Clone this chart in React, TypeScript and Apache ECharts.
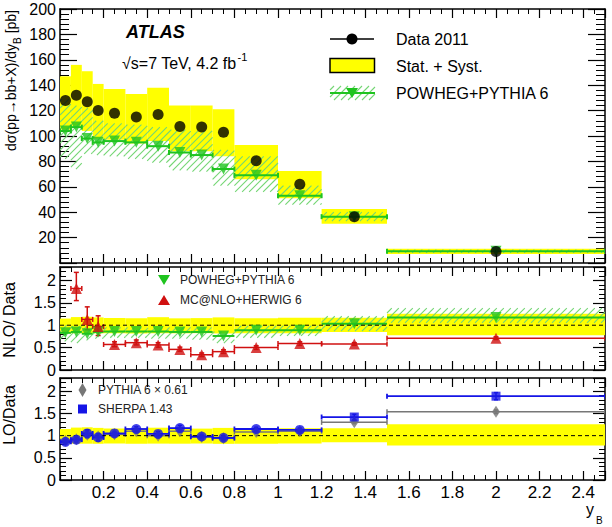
import React, { useEffect, useRef } from 'react';
import * as echarts from 'echarts';

// ---------------- data ----------------
const binEdges = [0, 0.05, 0.1, 0.15, 0.2, 0.3, 0.4, 0.5, 0.6, 0.7, 0.8, 1.0, 1.2, 1.5, 2.5];

// top panel: cross-section [pb]
const dataXsec = [128, 132, 127, 120, 118, 115, 117, 107.5, 107, 103, 80.5, 62, 36.5, 9.0];
const dataBandHi = [147, 156, 151, 141, 137, 133, 138, 124, 124, 121, 93, 72.5, 42.5, 11.3];
const dataBandLo = [105, 108, 104, 98, 97, 94, 96, 88, 88, 84, 66, 51, 31, 7.0];
const powheg = [104, 107, 98, 95, 96, 95, 92, 87, 85, 74, 69, 53, 36.5, 9.2];
const powhegHi = [129, 124, 122, 112, 110, 109, 107, 105, 104, 89, 84, 61, 40, 10.5];
const powhegLo = [82, 74, 86, 85, 84, 82, 79, 73, 72, 61, 56, 46, 33, 8];

// middle panel: NLO / Data
const ratioPowheg = [0.83, 0.85, 0.81, 0.85, 0.86, 0.86, 0.86, 0.85, 0.85, 0.76, 0.89, 0.89, 1.03, 1.17];
const ratioPowhegHi = [1.0, 0.98, 0.97, 0.95, 0.95, 0.95, 0.94, 0.95, 0.95, 0.86, 0.99, 0.99, 1.2, 1.38];
const ratioPowhegLo = [0.64, 0.6, 0.66, 0.7, 0.72, 0.72, 0.7, 0.7, 0.68, 0.6, 0.72, 0.76, 0.87, 1.05];
const ratioMcnlo = [null, 1.82, 1.13, 0.97, 0.57, 0.61, 0.56, 0.46, 0.34, 0.41, 0.5, 0.59, 0.58, 0.71];
const ratioMcnloLo = [null, 1.55, 0.9, 0.77, 0.52, 0.56, 0.51, 0.42, 0.3, 0.37, 0.46, 0.55, 0.55, 0.68];
const ratioMcnloHi = [null, 2.18, 1.41, 1.21, 0.63, 0.67, 0.61, 0.51, 0.38, 0.45, 0.54, 0.63, 0.61, 0.74];

// bottom panel: LO / Data
const loSherpa = [0.86, 0.91, 1.05, 0.96, 1.05, 1.15, 1.04, 1.17, 0.98, 0.95, 1.15, 1.13, 1.42, 1.89];
const loSherpaErr = [0.05, 0.05, 0.08, 0.08, 0.04, 0.05, 0.05, 0.06, 0.04, 0.04, 0.04, 0.04, 0.06, 0.08];
const loPythia = [0.88, 0.92, 1.02, 0.98, 1.03, 1.1, 1.0, 1.1, 0.97, 0.94, 1.08, 1.1, 1.3, 1.54];
const loPythiaErr = [0.04, 0.04, 0.08, 0.08, 0.04, 0.04, 0.04, 0.04, 0.04, 0.04, 0.04, 0.04, 0.03, 0.04];

const xTickLabels = [0.2, 0.4, 0.6, 0.8, 1, 1.2, 1.4, 1.6, 1.8, 2, 2.2, 2.4];

// ---------------- style ----------------
const FONT = "'Liberation Sans', Arial, Helvetica, sans-serif";
const GREEN = '#1fc41f';
const HATCH = '#74d674';
const RED = '#d01010';
const BLUE = '#1414e6';
const GREY = '#777777';
const YELLOW = '#ffff00';

let measureCtx: CanvasRenderingContext2D | null = null;
function textWidth(text: string, size: number, extra = '') {
  if (!measureCtx) measureCtx = document.createElement('canvas').getContext('2d');
  if (!measureCtx) return text.length * size * 0.55;
  measureCtx.font = `${extra} ${size}px 'Liberation Sans', Arial, sans-serif`;
  return measureCtx.measureText(text).width;
}

const binLo = binEdges.slice(0, -1);
const binHi = binEdges.slice(1);
const centers = binLo.map((e, i) => (e + binHi[i]) / 2);

function bandItem(fill: string) {
  return (params: any, api: any) => {
    const a = api.coord([api.value(0), api.value(3)]);
    const b = api.coord([api.value(1), api.value(2)]);
    return {
      type: 'rect',
      shape: { x: a[0], y: a[1], width: b[0] - a[0], height: b[1] - a[1] },
      style: { fill },
    };
  };
}

function hatchLines(x0: number, y0: number, x1: number, y1: number, step: number, color: string) {
  const out: any[] = [];
  const cStart = Math.ceil((x0 + y0) / step) * step;
  for (let c = cStart; c <= x1 + y1; c += step) {
    const xa = Math.max(x0, c - y1);
    const xb = Math.min(x1, c - y0);
    if (xb > xa + 0.3) {
      out.push({
        type: 'line',
        shape: { x1: xa, y1: c - xa, x2: xb, y2: c - xb },
        style: { stroke: color, lineWidth: 1.1 },
      });
    }
  }
  return out;
}

function hatchItem(color: string) {
  return (params: any, api: any) => {
    const a = api.coord([api.value(0), api.value(3)]);
    const b = api.coord([api.value(1), api.value(2)]);
    return { type: 'group', children: hatchLines(a[0], a[1], b[0], b[1], 7, color) };
  };
}

function hbarItem(color: string, cap: number, width: number) {
  return (params: any, api: any) => {
    const a = api.coord([api.value(0), api.value(2)]);
    const b = api.coord([api.value(1), api.value(2)]);
    const ch: any[] = [
      { type: 'line', shape: { x1: a[0], y1: a[1], x2: b[0], y2: b[1] }, style: { stroke: color, lineWidth: width } },
    ];
    if (cap > 0) {
      ch.push({ type: 'line', shape: { x1: a[0], y1: a[1] - cap, x2: a[0], y2: a[1] + cap }, style: { stroke: color, lineWidth: width } });
      ch.push({ type: 'line', shape: { x1: b[0], y1: b[1] - cap, x2: b[0], y2: b[1] + cap }, style: { stroke: color, lineWidth: width } });
    }
    return { type: 'group', children: ch };
  };
}

function vbarItem(color: string, cap: number, width: number) {
  return (params: any, api: any) => {
    const a = api.coord([api.value(0), api.value(1)]);
    const b = api.coord([api.value(0), api.value(2)]);
    return {
      type: 'group',
      children: [
        { type: 'line', shape: { x1: a[0], y1: a[1], x2: b[0], y2: b[1] }, style: { stroke: color, lineWidth: width } },
        { type: 'line', shape: { x1: a[0] - cap, y1: a[1], x2: a[0] + cap, y2: a[1] }, style: { stroke: color, lineWidth: width } },
        { type: 'line', shape: { x1: b[0] - cap, y1: b[1], x2: b[0] + cap, y2: b[1] }, style: { stroke: color, lineWidth: width } },
      ],
    };
  };
}

function custom(xi: number, renderItem: any, data: any[]) {
  return { type: 'custom', xAxisIndex: xi, yAxisIndex: xi, renderItem, data, silent: true, clip: true };
}

function xAx(grid: number, pos: string, showLabel: boolean) {
  return {
    type: 'value', gridIndex: grid, position: pos, min: 0, max: 2.5, interval: 0.2,
    axisLine: { show: true, onZero: false, lineStyle: { color: '#000', width: 1.5 } },
    axisTick: { show: true, inside: true, length: 9, lineStyle: { color: '#000', width: 1.2 } },
    minorTick: { show: true, splitNumber: 4, length: 5, lineStyle: { color: '#000', width: 1 } },
    splitLine: { show: false },
    axisLabel: showLabel
      ? {
          show: true, fontSize: 17, fontFamily: FONT, color: '#000', margin: 4,
          formatter: (v: number) => {
            const hit = xTickLabels.find((t) => Math.abs(t - v) < 1e-6);
            return hit === undefined ? '' : String(hit);
          },
        }
      : { show: false },
  };
}

function yAx(grid: number, pos: string, max: number, interval: number, minorSplit: number,
  majorLen: number, minorLen: number, showLabel: boolean, fmt: (v: number) => string) {
  return {
    type: 'value', gridIndex: grid, position: pos, min: 0, max, interval,
    axisLine: { show: true, onZero: false, lineStyle: { color: '#000', width: 1.5 } },
    axisTick: { show: true, inside: true, length: majorLen, lineStyle: { color: '#000', width: 1.2 } },
    minorTick: { show: true, splitNumber: minorSplit, length: minorLen, lineStyle: { color: '#000', width: 1 } },
    splitLine: { show: false },
    axisLabel: showLabel
      ? { show: true, fontSize: 16, fontFamily: FONT, color: '#000', margin: 4, formatter: fmt }
      : { show: false },
  };
}

function buildOption() {
  const idx = centers.map((_, i) => i);
  const ratioFmt = (v: number) => (Math.abs(v * 2 - Math.round(v * 2)) > 1e-6 ? '' : String(v));
  const topFmt = (v: number) => (v === 0 ? '' : String(v));

  const mcIdx = idx.filter((i) => ratioMcnlo[i] !== null);

  const g: any[] = [];
  const txt = (x: number, y: number, text: string, size: number, extra: any = {}) => ({
    type: 'text', x, y, silent: true,
    style: { text, fontSize: size, fontFamily: FONT, fill: '#000', verticalAlign: 'middle', align: 'left', ...extra },
  });

  // ATLAS label
  g.push(txt(126, 32, 'ATLAS', 18, { fontWeight: 'bold', fontStyle: 'italic' }));
  const eText = '√s=7 TeV, 4.2 fb';
  g.push(txt(122, 63, eText, 16));
  g.push(txt(122 + textWidth(eText, 16) + 1, 57, '-1', 11));

  // top legend
  g.push({ type: 'line', shape: { x1: 330, y1: 39, x2: 374, y2: 39 }, style: { stroke: '#000', lineWidth: 1.5 } });
  g.push({ type: 'circle', shape: { cx: 352, cy: 39, r: 5.5 }, style: { fill: '#000' } });
  g.push(txt(396, 39, 'Data 2011', 16));
  g.push({ type: 'rect', shape: { x: 330, y: 58.5, width: 44.5, height: 14 }, style: { fill: YELLOW, stroke: '#000', lineWidth: 1.5 } });
  g.push(txt(396, 66, 'Stat. + Syst.', 16));
  hatchLines(330, 86, 375, 100, 7, HATCH).forEach((l) => g.push(l));
  g.push({ type: 'line', shape: { x1: 330, y1: 93, x2: 375, y2: 93 }, style: { stroke: GREEN, lineWidth: 2 } });
  g.push({ type: 'polygon', shape: { points: [[346, 88], [358, 88], [352, 98]] }, style: { fill: GREEN } });
  g.push(txt(396, 93, 'POWHEG+PYTHIA 6', 16));

  // middle legend
  g.push({ type: 'polygon', shape: { points: [[158, 275], [170, 275], [164, 285]] }, style: { fill: GREEN } });
  g.push(txt(180, 280, 'POWHEG+PYTHIA 6', 12, { fill: '#222' }));
  g.push({ type: 'polygon', shape: { points: [[158, 305], [170, 305], [164, 295]] }, style: { fill: RED } });
  g.push(txt(180, 300, 'MC@NLO+HERWIG 6', 12, { fill: '#222' }));

  // bottom legend
  g.push({ type: 'polygon', shape: { points: [[82.5, 383], [86.5, 390], [82.5, 397], [78.5, 390]] }, style: { fill: GREY } });
  g.push(txt(98, 390, 'PYTHIA 6 × 0.61', 12, { fill: '#222' }));
  g.push({ type: 'rect', shape: { x: 78, y: 404.5, width: 9, height: 9 }, style: { fill: BLUE } });
  g.push(txt(98, 409, 'SHERPA 1.43', 12, { fill: '#222' }));

  // y-axis titles (rotated)
  const t1 = 'dσ(pp→bb+X)/dy';
  const t2 = 'B';
  const t3 = ' [pb]';
  const w1 = textWidth(t1, 14);
  const w2 = textWidth(t2, 10);
  const w3 = textWidth(t3, 14);
  const total = w1 + w2 + w3;
  g.push({
    type: 'group', x: 11, y: 10 + total, rotation: Math.PI / 2, silent: true,
    children: [
      txt(0, 0, t1, 14),
      txt(w1, 6, t2, 10),
      txt(w1 + w2, 0, t3, 14),
    ],
  });
  const m1 = 'NLO/ Data';
  const mw = textWidth(m1, 16);
  g.push({ type: 'group', x: 9, y: 320 + mw / 2, rotation: Math.PI / 2, silent: true, children: [txt(0, 0, m1, 16)] });
  const b1 = 'LO/Data';
  const bw = textWidth(b1, 16);
  g.push({ type: 'group', x: 9, y: 415 + bw / 2, rotation: Math.PI / 2, silent: true, children: [txt(0, 0, b1, 16)] });

  // x-axis title
  g.push(txt(586, 509, 'y', 16));
  g.push(txt(596, 520, 'B', 10));

  const dashed = (xi: number) => ({
    type: 'line', xAxisIndex: xi, yAxisIndex: xi, data: [[0, 1], [2.5, 1]], symbol: 'none', silent: true,
    lineStyle: { color: '#000', width: 1, type: [4, 3] }, z: 2,
  });

  return {
    animation: false,
    grid: [
      { left: 60, right: 7, top: 9, height: 254 },
      { left: 60, right: 7, top: 267, height: 103 },
      { left: 60, right: 7, top: 378, height: 102 },
    ],
    xAxis: [
      xAx(0, 'bottom', false), xAx(0, 'top', false),
      xAx(1, 'bottom', false), xAx(1, 'top', false),
      xAx(2, 'bottom', true), xAx(2, 'top', false),
    ],
    yAxis: [
      yAx(0, 'left', 200, 20, 5, 17, 9, true, topFmt), yAx(0, 'right', 200, 20, 5, 17, 9, false, topFmt),
      yAx(1, 'left', 2.3, 0.5, 5, 12, 6, true, ratioFmt), yAx(1, 'right', 2.3, 0.5, 5, 12, 6, false, ratioFmt),
      yAx(2, 'left', 2.3, 0.5, 5, 12, 6, true, ratioFmt), yAx(2, 'right', 2.3, 0.5, 5, 12, 6, false, ratioFmt),
    ],
    graphic: { elements: g },
    series: [
      // ---- top panel
      custom(0, bandItem(YELLOW), idx.map((i) => [binLo[i], binHi[i], dataBandLo[i], dataBandHi[i]])),
      custom(0, hatchItem(HATCH), idx.map((i) => [binLo[i], binHi[i], powhegLo[i], powhegHi[i]])),
      custom(0, hbarItem(GREEN, 2.5, 2), idx.map((i) => [binLo[i], binHi[i], powheg[i]])),
      {
        type: 'scatter', xAxisIndex: 0, yAxisIndex: 0, symbol: 'triangle', symbolRotate: 180, symbolSize: 11,
        itemStyle: { color: GREEN }, data: idx.map((i) => [centers[i], powheg[i]]), silent: true,
      },
      {
        type: 'scatter', xAxisIndex: 0, yAxisIndex: 0, symbol: 'circle', symbolSize: 11,
        itemStyle: { color: '#000' }, data: idx.map((i) => [centers[i], dataXsec[i]]), silent: true,
      },
      // ---- middle panel
      custom(2, bandItem(YELLOW), idx.map((i) => [binLo[i], binHi[i], dataBandLo[i] / dataXsec[i], dataBandHi[i] / dataXsec[i]])),
      custom(2, hatchItem(HATCH), idx.map((i) => [binLo[i], binHi[i], ratioPowhegLo[i], ratioPowhegHi[i]])),
      dashed(2),
      custom(2, hbarItem(GREEN, 0, 2), idx.map((i) => [binLo[i], binHi[i], ratioPowheg[i]])),
      custom(2, hbarItem(RED, 2.5, 1.5), mcIdx.map((i) => [binLo[i], binHi[i], ratioMcnlo[i]])),
      custom(2, vbarItem(RED, 2.5, 1.5), mcIdx.map((i) => [centers[i], ratioMcnloLo[i], ratioMcnloHi[i]])),
      {
        type: 'scatter', xAxisIndex: 2, yAxisIndex: 2, symbol: 'triangle', symbolRotate: 180, symbolSize: 11,
        itemStyle: { color: GREEN }, data: idx.map((i) => [centers[i], ratioPowheg[i]]), silent: true,
      },
      {
        type: 'scatter', xAxisIndex: 2, yAxisIndex: 2, symbol: 'triangle', symbolSize: 11,
        itemStyle: { color: RED }, data: mcIdx.map((i) => [centers[i], ratioMcnlo[i]]), silent: true,
      },
      // ---- bottom panel
      custom(4, bandItem(YELLOW), idx.map((i) => [binLo[i], binHi[i], dataBandLo[i] / dataXsec[i], dataBandHi[i] / dataXsec[i]])),
      dashed(4),
      custom(4, hbarItem(GREY, 2.5, 1.5), idx.map((i) => [binLo[i], binHi[i], loPythia[i]])),
      custom(4, vbarItem(GREY, 2, 1.5), idx.map((i) => [centers[i], loPythia[i] - loPythiaErr[i], loPythia[i] + loPythiaErr[i]])),
      {
        type: 'scatter', xAxisIndex: 4, yAxisIndex: 4, symbol: 'diamond', symbolSize: [8, 12],
        itemStyle: { color: GREY }, data: idx.map((i) => [centers[i], loPythia[i]]), silent: true,
      },
      custom(4, hbarItem(BLUE, 2.5, 1.8), idx.map((i) => [binLo[i], binHi[i], loSherpa[i]])),
      custom(4, vbarItem(BLUE, 2, 1.5), idx.map((i) => [centers[i], loSherpa[i] - loSherpaErr[i], loSherpa[i] + loSherpaErr[i]])),
      {
        type: 'scatter', xAxisIndex: 4, yAxisIndex: 4, symbolSize: 10,
        itemStyle: { color: BLUE }, silent: true,
        data: idx.map((i) => ({
          value: [centers[i], loSherpa[i]],
          symbol: binHi[i] - binLo[i] > 0.25 ? 'rect' : 'circle',
          symbolSize: binHi[i] - binLo[i] > 0.25 ? 9 : 10,
        })),
      },
    ],
  };
}

export default function App() {
  const ref = useRef<HTMLDivElement>(null);
  useEffect(() => {
    document.body.style.margin = '0';
    const chart = echarts.init(ref.current as HTMLDivElement, null, { renderer: 'svg' });
    chart.setOption(buildOption() as any);
    return () => chart.dispose();
  }, []);
  return <div ref={ref} style={{ width: 612, height: 527, background: '#fff' }} />;
}
